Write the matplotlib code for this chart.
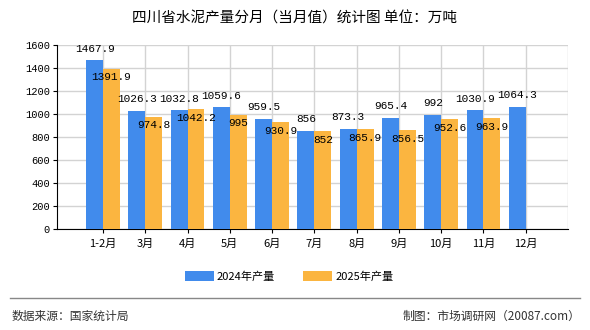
#!/usr/bin/env python3
# Sichuan cement output by month, 2024 vs 2025
import numpy as np
from matplotlib import pyplot as plt
from matplotlib.patches import Patch

months = ["1-2月", "3月", "4月", "5月", "6月", "7月", "8月", "9月", "10月", "11月", "12月"]
output2024 = [1467.9, 1026.3, 1032.8, 1059.6, 959.5, 856, 873.3, 965.4, 992, 1030.9, 1064.3]
output2025 = [1391.9, 974.8, 1042.2, 995, 930.9, 852, 865.9, 856.5, 952.6, 963.9]
yTicks = [0, 200, 400, 600, 800, 1000, 1200, 1400, 1600]

cjk = ["Noto Sans CJK SC", "DejaVu Sans"]
mono = ["Liberation Mono", "Noto Sans CJK SC"]
blue = "#418bec"
orange = "#fbb540"

fig = plt.figure()
fig.set_size_inches(5.9, 3.3)
ax = fig.add_axes([0.0966, 0.306, 0.866, 0.558])

x = np.arange(len(months))
w = 0.4
ax.bar(x[:len(output2024)] - w/2, output2024, w, color=blue, zorder=3)
ax.bar(x[:len(output2025)] + w/2, output2025, w, color=orange, zorder=3)

for i, v in enumerate(output2024):
    ax.text(i - w/2, v + 100, f"{v:g}", ha="center", va="center", fontsize=8, family=mono, zorder=4)
for i, v in enumerate(output2025):
    ax.text(i + w/2, v - 75, f"{v:g}", ha="center", va="center", fontsize=8, family=mono, zorder=4)

ax.set_xlim(-1.09, 11.0)
ax.set_ylim(0, 1600)
ax.set_yticks(yTicks)
ax.set_yticklabels([str(t) for t in yTicks], fontsize=7.5, family=mono)
ax.set_xticks(x)
ax.set_xticklabels(months, fontsize=8, family=cjk)
ax.tick_params(axis="both", length=3, width=0.8, color="black", pad=2)
ax.tick_params(axis="x", pad=4)

ax.grid(True, color="#d3d3d3", linewidth=1, zorder=0)
ax.axvline(11.0, color="#d3d3d3", linewidth=1, zorder=0)
for side in ["top", "right"]:
    ax.spines[side].set_visible(False)
ax.spines["left"].set_linewidth(0.8)
ax.spines["bottom"].set_linewidth(0.8)

fig.text(0.5, 0.945, "四川省水泥产量分月（当月值）统计图 单位：万吨", ha="center", va="center", fontsize=10.5, family=cjk)

legend_elements = [Patch(facecolor=blue, label="2024年产量"), Patch(facecolor=orange, label="2025年产量")]
fig.legend(handles=legend_elements, loc="center", bbox_to_anchor=(0.49, 0.163), ncol=2, frameon=False,
           prop={"family": cjk, "size": 8}, handlelength=2.6, handleheight=1.1, columnspacing=2.5, handletextpad=0.3)

fig.add_artist(plt.Line2D([0.017, 0.983], [0.097, 0.097], color="#888888", linewidth=1))
fig.text(0.02, 0.042, "数据来源：国家统计局", ha="left", va="center", fontsize=8.5, family=cjk, color="#333333")
fig.text(0.983, 0.042, "制图：市场调研网（20087.com）", ha="right", va="center", fontsize=8.5, family=cjk, color="#333333")

fig.savefig("out.png", dpi=100)
